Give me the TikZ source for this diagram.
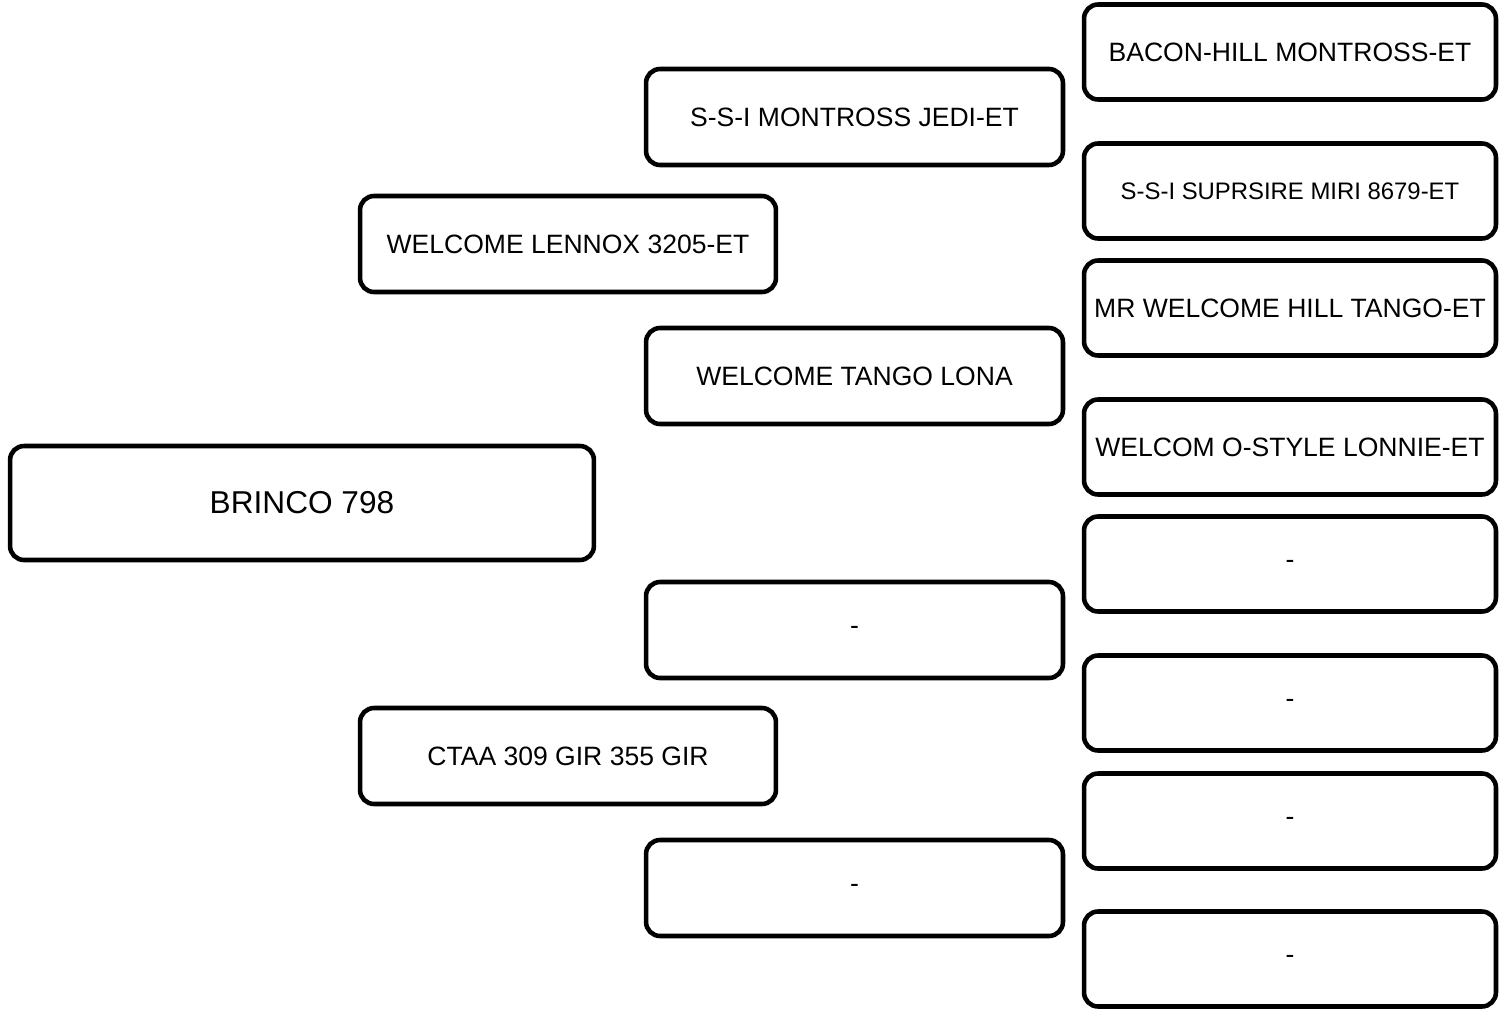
\documentclass[tikz,border=0pt]{standalone}
\usepackage{fontspec}
\setmainfont{Liberation Sans}
\usepackage{tikz}
\usetikzlibrary{positioning}

\tikzset{
	pbox/.style={draw=black, line width=2.6pt, rounded corners=0.28cm, align=center, inner sep=0pt,
		font=\fontsize{15.1}{18}\selectfont},
	col3/.style={pbox, minimum width=8.34cm, minimum height=1.92cm},
	col2/.style={pbox, minimum width=8.32cm, minimum height=1.92cm},
	col4/.style={pbox, minimum width=8.24cm, minimum height=1.9cm}
}

\begin{document}
\begin{tikzpicture}[x=0.02cm, y=-0.02cm]
		\useasboundingbox (0,0) rectangle (1499,1011);
		
		% animal
		\node[pbox, minimum width=11.68cm, minimum height=2.28cm, font=\fontsize{18}{22}\selectfont] (animal) at (302,503) {BRINCO 798};
		
		% parents
		\node[col2] (sire) at (568,244) {WELCOME LENNOX 3205-ET};
		\node[col2] (dam) at (568,756) {CTAA 309 GIR 355 GIR};
		
		% grandparents
		\node[col3] (ss) at (854.5,117) {S-S-I MONTROSS JEDI-ET};
		\node[col3] (sd) at (854.5,376) {WELCOME TANGO LONA};
		\node[col3] (ds) at (854.5,630) {-};
		\node[col3] (dd) at (854.5,888) {-};
		
		% great-grandparents
		\node[col4] (sss) at (1290,52) {BACON-HILL MONTROSS-ET};
		\node[col4, font=\fontsize{13.6}{16}\selectfont] (ssd) at (1290,191) {S-S-I SUPRSIRE MIRI 8679-ET};
		\node[col4] (sds) at (1290,308) {MR WELCOME HILL TANGO-ET};
		\node[col4] (sdd) at (1290,447) {WELCOM O-STYLE LONNIE-ET};
		\node[col4] (dss) at (1290,564) {-};
		\node[col4] (dsd) at (1290,703) {-};
		\node[col4] (dds) at (1290,821) {-};
		\node[col4] (ddd) at (1290,959) {-};
	\end{tikzpicture}
\end{document}
